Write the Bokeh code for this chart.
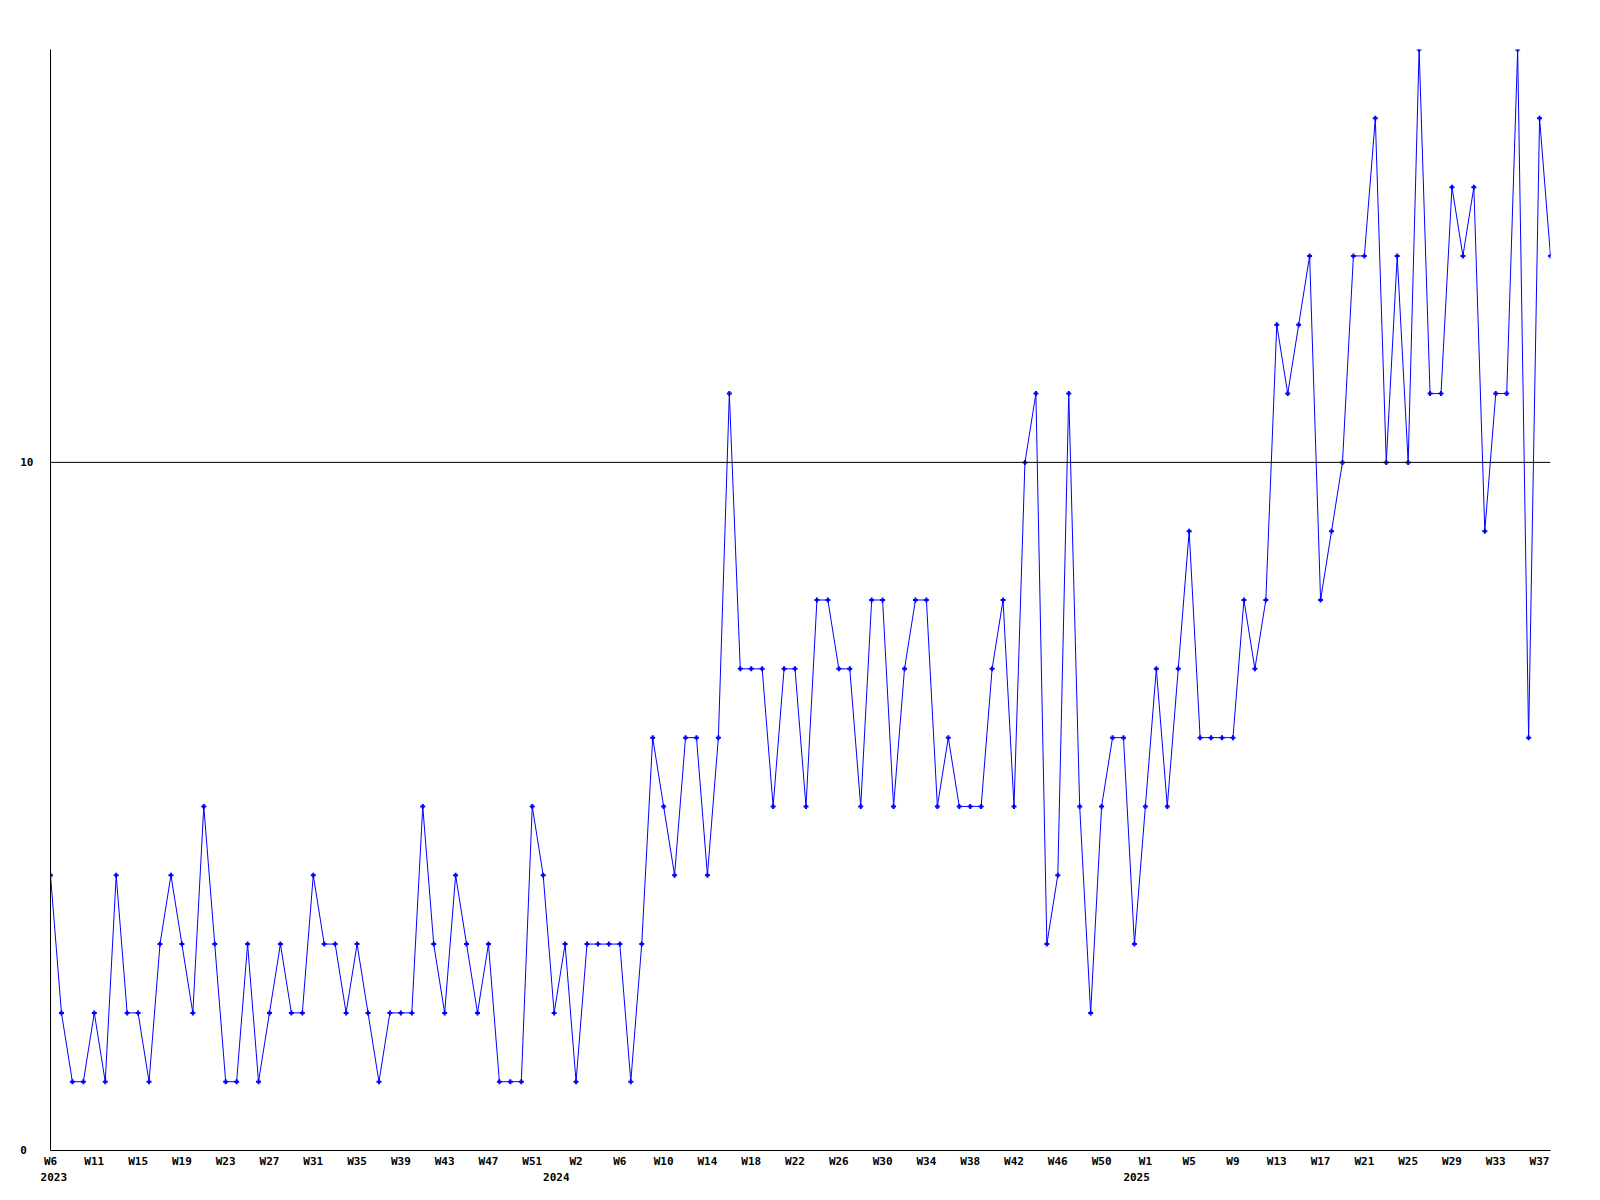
from bokeh.plotting import figure
from bokeh.models import Range1d, Span, LinearAxis, FixedTicker
from bokeh.embed import file_html
from bokeh.resources import INLINE

# weekly values, W6 2023 .. 2025
values = [4, 2, 1, 1, 2, 1, 4, 2, 2, 1, 3, 4, 3, 2, 5, 3, 1, 1, 3, 1,
          2, 3, 2, 2, 4, 3, 3, 2, 3, 2, 1, 2, 2, 2, 5, 3, 2, 4, 3, 2,
          3, 1, 1, 1, 5, 4, 2, 3, 1, 3, 3, 3, 3, 1, 3, 6, 5, 4, 6, 6,
          4, 6, 11, 7, 7, 7, 5, 7, 7, 5, 8, 8, 7, 7, 5, 8, 8, 5, 7, 8,
          8, 5, 6, 5, 5, 5, 7, 8, 5, 10, 11, 3, 4, 11, 5, 2, 5, 6, 6, 3,
          5, 7, 5, 7, 9, 6, 6, 6, 6, 8, 7, 8, 12, 11, 12, 13, 8, 9, 10, 13,
          13, 15, 10, 13, 10, 16, 11, 11, 14, 13, 14, 9, 11, 11, 16, 6, 15, 13]

week_labels = ["W6", "W11", "W15", "W19", "W23", "W27", "W31", "W35", "W39", "W43", "W47", "W51",
               "W2", "W6", "W10", "W14", "W18", "W22", "W26", "W30", "W34", "W38", "W42", "W46", "W50",
               "W1", "W5", "W9", "W13", "W17", "W21", "W25", "W29", "W33", "W37"]
year_labels = ["2023", "2024", "2025"]
year_label_pos = [0.3, 46.2, 99.2]

y_tick_values = [0, 10]
threshold = 10

x = list(range(len(values)))
week_ticks = [4 * i for i in range(len(week_labels))]

FONT = "DejaVu Sans Mono"

p = figure(frame_width=1500, frame_height=1101, output_backend="svg", toolbar_location=None,
           x_range=Range1d(0, len(values) - 1), y_range=Range1d(0, 16),
           min_border_left=50, min_border_top=49, min_border_right=20, min_border_bottom=10,
           x_axis_location=None, y_axis_location=None)
p.outline_line_color = None
p.grid.visible = False
p.background_fill_color = "white"
p.border_fill_color = "white"

# y axis
yax = LinearAxis(ticker=FixedTicker(ticks=y_tick_values),
                 major_label_overrides={0: "0\u00a0", 10: "10"})
yax.major_tick_line_color = None
yax.minor_tick_line_color = None
yax.major_label_standoff = 11
yax.axis_line_color = "black"
yax.major_label_text_font = FONT
yax.major_label_text_font_style = "bold"
yax.major_label_text_font_size = "11px"
yax.major_label_text_color = "black"
p.add_layout(yax, "left")

# x axis with week labels
xax = LinearAxis(ticker=FixedTicker(ticks=week_ticks),
                 major_label_overrides={t: l for t, l in zip(week_ticks, week_labels)})
xax.major_tick_line_color = None
xax.minor_tick_line_color = None
xax.axis_line_color = "black"
xax.major_label_standoff = -2
xax.major_label_text_font = FONT
xax.major_label_text_font_style = "bold"
xax.major_label_text_font_size = "11px"
xax.major_label_text_color = "black"
p.add_layout(xax, "below")

# second row: years
yrax = LinearAxis(ticker=FixedTicker(ticks=year_label_pos),
                  major_label_overrides={t: l for t, l in zip(year_label_pos, year_labels)})
yrax.major_tick_line_color = None
yrax.minor_tick_line_color = None
yrax.axis_line_color = None
yrax.major_label_standoff = -4
yrax.major_label_text_font = FONT
yrax.major_label_text_font_style = "bold"
yrax.major_label_text_font_size = "11px"
yrax.major_label_text_color = "black"
p.add_layout(yrax, "below")

p.add_layout(Span(location=threshold, dimension="width", line_color="black", line_width=1))

p.line(x, values, line_color="#0000ff", line_width=1)
p.scatter(x, values, marker="cross", size=5, line_color="#0000ff", line_width=2)

open("out.html", "w").write(file_html(p, INLINE))
